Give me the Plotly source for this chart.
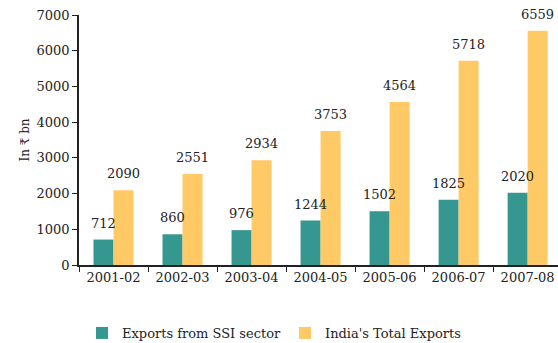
import plotly.graph_objects as go

years = ["2001-02", "2002-03", "2003-04", "2004-05", "2005-06", "2006-07", "2007-08"]
ssi_exports = [712, 860, 976, 1244, 1502, 1825, 2020]
total_exports = [2090, 2551, 2934, 3753, 4564, 5718, 6559]

teal = "#35978f"
orange = "#ffc965"
font_family = "DejaVu Serif"
text_color = "#222222"
W, H = 558, 343

fig = go.Figure()
fig.add_trace(go.Bar(x=years, y=ssi_exports, name="Exports from SSI sector",
                     marker=dict(color=teal, line=dict(width=0))))
fig.add_trace(go.Bar(x=years, y=total_exports, name="India's Total Exports",
                     marker=dict(color=orange, line=dict(width=0))))

# value labels above each bar
annotations = []
for yr, a, b in zip(years, ssi_exports, total_exports):
    annotations.append(dict(x=yr, y=a, text=str(a), xshift=-10, yshift=7,
                            yanchor="bottom", showarrow=False, font=dict(size=13)))
    annotations.append(dict(x=yr, y=b, text=str(b), xshift=10, yshift=7,
                            yanchor="bottom", showarrow=False, font=dict(size=13)))

fig.update_layout(
    width=W, height=H,
    margin=dict(l=79, r=0, t=15, b=78, autoexpand=False),
    paper_bgcolor="white", plot_bgcolor="white",
    font=dict(family=font_family, size=12, color=text_color),
    barmode="group", bargap=0.42, bargroupgap=0,
    annotations=annotations,
    showlegend=True,
    legend=dict(orientation="h", x=82 / W, xref="container", xanchor="left",
                y=1 - 333 / H, yref="container", yanchor="middle",
                font=dict(size=13), itemwidth=30,
                entrywidth=158, entrywidthmode="pixels"),
    xaxis=dict(type="category", range=[-0.5, 6.44], showline=True,
               linecolor="#222222", linewidth=1.5,
               ticks="outside", tickson="boundaries", ticklen=5, tickcolor="#222222",
               showgrid=False, zeroline=False, tickfont=dict(size=13)),
    yaxis=dict(range=[0, 7000], dtick=1000, showline=True, linecolor="#222222",
               linewidth=1.5, ticks="outside", ticklen=5, tickcolor="#222222",
               showgrid=False, zeroline=False, tickfont=dict(size=13),
               title=dict(text="In ₹ bn", standoff=4, font=dict(size=12))),
)

fig.write_html("out.html")
